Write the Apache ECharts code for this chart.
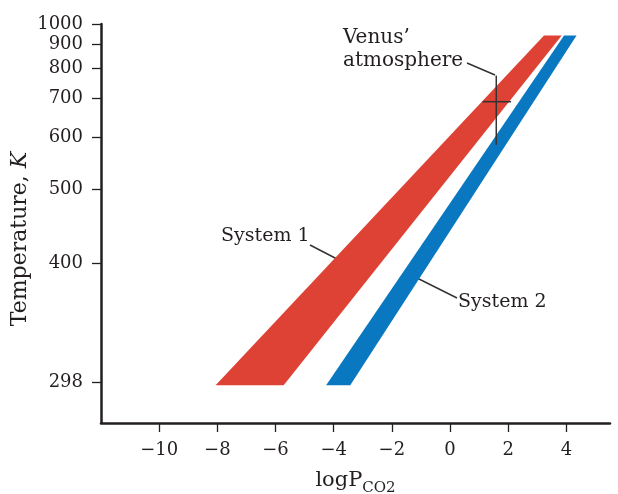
<!DOCTYPE html>
<html>
<head>
<meta charset="utf-8">
<script src="https://cdn.jsdelivr.net/npm/echarts@6/dist/echarts.min.js"></script>
<style>
html,body{margin:0;padding:0;background:#fff;}
#chart{width:618px;height:494px;}
</style>
</head>
<body>
<div id="chart"></div>
<script>
// ---- data ----
const logPTicks = [-10, -8, -6, -4, -2, 0, 2, 4];
const tempTicks = [298, 400, 500, 600, 700, 800, 900, 1000];
const system1LogP = [-8.06, -5.72, 3.84, 3.23];
const system1Temp = [296, 296, 940, 940];
const system2LogP = [-4.26, -3.43, 4.35, 3.92];
const system2Temp = [296, 296, 940, 940];
const venusLogP = [1.12, 1.59, 2.10];   // left, centre, right
const venusTemp = [583, 690, 773];      // bottom, centre, top

// temperature axis transform (axis is compressed toward high T)
const EXP = 0.75;
function yv(T) { return -1000 * Math.pow(T, -EXP); }
function invY(v) { return Math.pow(-v / 1000, -1 / EXP); }

const FONT = 'DejaVu Serif';
const INK = '#231f20';
const RED = '#de4235';
const BLUE = '#0a78c0';

function bandSeries(lp, tp, color) {
  const pts = lp.map((p, i) => [p, yv(tp[i])]);
  return {
    type: 'custom',
    clip: false,
    silent: true,
    data: [pts[0]],
    renderItem: function (params, api) {
      const poly = pts.map(d => api.coord(d));
      return { type: 'polygon', shape: { points: poly }, style: { fill: color, stroke: null } };
    }
  };
}

const chart = echarts.init(document.getElementById('chart'), null, { renderer: 'canvas' });
const option = {
  backgroundColor: '#fff',
  animation: false,
  grid: { left: 101, right: 8, top: 24, bottom: 71, containLabel: false, outerBoundsMode: 'none' },
  xAxis: {
    type: 'value',
    min: -12, max: 5.5,
    name: '{a|logP}{b|CO2}',
    nameLocation: 'middle',
    nameGap: 47,
    nameMoveOverlap: false,
    nameTextStyle: {
      rich: {
        a: { fontFamily: FONT, fontSize: 21, color: INK, verticalAlign: 'top' },
        b: { fontFamily: FONT, fontSize: 15, color: INK, verticalAlign: 'bottom', padding: [11, 0, 0, 0] }
      }
    },
    axisLine: { show: true, onZero: false, lineStyle: { color: INK, width: 2.5 } },
    axisTick: { show: true, customValues: logPTicks, length: 9, inside: false, lineStyle: { color: INK, width: 1.3 } },
    axisLabel: {
      customValues: logPTicks, margin: 18,
      fontFamily: FONT, fontSize: 18, color: INK,
      formatter: v => (v < 0 ? '\u2212' + Math.abs(v) : String(v))
    },
    splitLine: { show: false }
  },
  yAxis: {
    type: 'value',
    min: yv(273), max: yv(1000),
    name: '{t|Temperature, }{k|K}',
    nameLocation: 'middle',
    nameGap: 70,
    nameMoveOverlap: false,
    nameTextStyle: {
      padding: [0, 31, 0, 0],
      rich: {
        t: { fontFamily: FONT, fontSize: 22, color: INK },
        k: { fontFamily: FONT, fontSize: 22, color: INK, fontStyle: 'italic' }
      }
    },
    axisLine: { show: true, onZero: false, lineStyle: { color: INK, width: 2.5 } },
    axisTick: { show: true, customValues: tempTicks.map(yv), length: 9, inside: false, lineStyle: { color: INK, width: 1.3 } },
    axisLabel: {
      customValues: tempTicks.map(yv), margin: 18,
      fontFamily: FONT, fontSize: 18, color: INK,
      formatter: v => String(Math.round(invY(v)))
    },
    splitLine: { show: false }
  },
  series: [
    bandSeries(system1LogP, system1Temp, RED),
    bandSeries(system2LogP, system2Temp, BLUE),
    {
      type: 'custom',
      clip: false,
      silent: true,
      data: [[venusLogP[1], yv(venusTemp[1])]],
      renderItem: function (params, api) {
        const l = api.coord([venusLogP[0], yv(venusTemp[1])]);
        const r = api.coord([venusLogP[2], yv(venusTemp[1])]);
        const b = api.coord([venusLogP[1], yv(venusTemp[0])]);
        const t = api.coord([venusLogP[1], yv(venusTemp[2])]);
        const st = { stroke: '#333', lineWidth: 1.5 };
        return {
          type: 'group',
          children: [
            { type: 'line', shape: { x1: l[0], y1: l[1], x2: r[0], y2: r[1] }, style: st },
            { type: 'line', shape: { x1: b[0], y1: b[1], x2: t[0], y2: t[1] }, style: st }
          ]
        };
      }
    }
  ],
  graphic: [
    { type: 'text', left: 343, top: 28, style: { text: "Venus\u2019", font: '20px "DejaVu Serif"', fill: INK } },
    { type: 'text', left: 343, top: 51, style: { text: 'atmosphere', font: '20px "DejaVu Serif"', fill: INK } },
    { type: 'line', shape: { x1: 467, y1: 63, x2: 495, y2: 75 }, style: { stroke: '#333', lineWidth: 1.5 } },
    { type: 'text', left: 221, top: 227, style: { text: 'System 1', font: '19px "DejaVu Serif"', fill: INK } },
    { type: 'line', shape: { x1: 310, y1: 245, x2: 337, y2: 259 }, style: { stroke: '#333', lineWidth: 1.5 } },
    { type: 'text', left: 458, top: 293, style: { text: 'System 2', font: '19px "DejaVu Serif"', fill: INK } },
    { type: 'line', shape: { x1: 415, y1: 277, x2: 457, y2: 298 }, style: { stroke: '#333', lineWidth: 1.5 } }
  ]
};
chart.setOption(option);
</script>
</body>
</html>
